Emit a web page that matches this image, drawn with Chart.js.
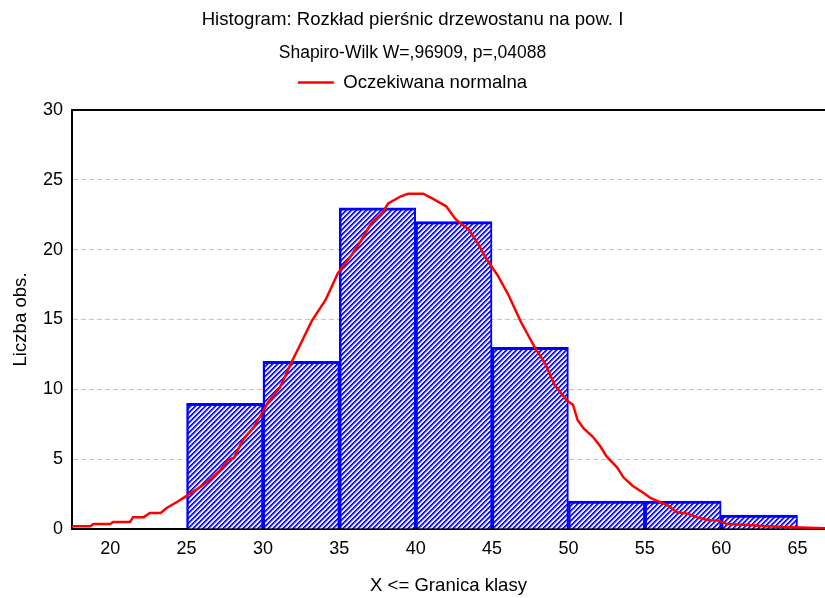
<!DOCTYPE html>
<html>
<head>
<meta charset="utf-8">
<script src="https://cdn.jsdelivr.net/npm/chart.js@4/dist/chart.umd.min.js"></script>
<style>
  html, body { margin: 0; padding: 0; background: #fff; }
  canvas { display: block; }
</style>
</head>
<body>
<canvas id="myChart" width="825" height="598"></canvas>
<script>
// histogram classes (centre of each 5-wide class) and counts
var binCenters = [27.5, 32.5, 37.5, 42.5, 47.5, 52.5, 57.5, 62.5];
var counts = [9, 12, 23, 22, 13, 2, 2, 1];

// expected normal curve
var curveX = [17.5, 18.7, 18.9, 20.0, 20.2, 21.3, 21.5, 22.2, 22.6, 23.3, 23.7, 24.4, 24.9, 25.9, 26.5, 27.2, 27.7, 28.1, 28.7, 29.4,
    30.0, 30.3, 31.1, 31.9, 32.4, 33.2, 34.1, 34.9, 35.8, 36.4, 37.1, 37.8, 38.2, 39.0, 39.5, 40.5, 41.2, 42.0, 42.6, 43.5,
    44.1, 44.6, 45.4, 46.1, 46.9, 47.8, 48.5, 49.1, 49.9, 50.3, 50.6, 51.0, 51.6, 52.1, 52.5, 53.2, 53.6, 54.2, 54.9, 55.4,
    56.5, 57.1, 57.8, 58.4, 59.1, 59.8, 60.4, 61.5, 63.0, 64.1, 66.8];
var curveY = [0.2, 0.2, 0.35, 0.35, 0.5, 0.5, 0.85, 0.85, 1.15, 1.15, 1.5, 1.95, 2.3, 3.0, 3.5, 4.2, 4.9, 5.1, 6.4, 7.3,
    8.4, 9.0, 10.1, 12.0, 13.1, 14.9, 16.4, 18.3, 19.6, 20.6, 21.9, 22.6, 23.3, 23.8, 24.0, 24.0, 23.6, 23.1, 22.2, 21.4,
    20.4, 19.4, 18.1, 16.7, 14.8, 13.0, 11.8, 10.3, 9.2, 8.9, 7.8, 7.2, 6.6, 5.9, 5.2, 4.4, 3.7, 3.1, 2.6, 2.2,
    1.7, 1.2, 1.1, 0.85, 0.65, 0.6, 0.35, 0.3, 0.2, 0.15, 0.05];

var xMin = 17.5, xMax = 66.8, xStep = 5;
var yMin = 0, yMax = 30, yStep = 5;

// diagonal hatch fill for the bars
function hatch() {
    var c = document.createElement('canvas');
    c.width = 5; c.height = 5;
    var g = c.getContext('2d');
    var cols = ['#0000ff', '#2a2aff', '#9090ff', '#ffffff', '#d4d4ff'];
    for (var i = 0; i < 5; i++) {
        for (var j = 0; j < 5; j++) {
            g.fillStyle = cols[(i + j) % 5];
            g.fillRect(i, j, 1, 1);
        }
    }
    return g.createPattern(c, 'repeat');
}

Chart.defaults.font.family = "'Liberation Sans', Arial, sans-serif";
Chart.defaults.font.size = 18;
Chart.defaults.color = '#000';

var ctx = document.getElementById('myChart').getContext('2d');
var chart = new Chart(ctx, {
    type: 'bar',
    data: {
        datasets: [{
            type: 'line',
            label: 'Oczekiwana normalna',
            data: curveX.map(function (x, i) { return {x: x, y: curveY[i]}; }),
            borderColor: '#ff0000',
            backgroundColor: '#ff0000',
            borderWidth: 2.5,
            pointRadius: 0,
            pointStyle: 'line',
            tension: 0,
            order: 0
        }, {
            type: 'bar',
            label: 'Liczba obs.',
            data: binCenters.map(function (x, i) { return {x: x, y: counts[i]}; }),
            backgroundColor: hatch(),
            borderColor: '#0000ff',
            borderWidth: {top: 3, left: 2.5, right: 2, bottom: 0},
            borderSkipped: false,
            barPercentage: 1,
            categoryPercentage: 1,
            order: 1
        }]
    },
    options: {
        responsive: false,
        animation: false,
        devicePixelRatio: 1,
        layout: {padding: 0},
        plugins: {
            title: {
                display: true,
                text: 'Histogram: Rozkład pierśnic drzewostanu na pow. I',
                font: {size: 18.6, weight: 'normal', lineHeight: 1.2},
                color: '#000',
                padding: {top: 9, bottom: 11}
            },
            subtitle: {
                display: true,
                text: 'Shapiro-Wilk W=,96909, p=,04088',
                font: {size: 17.5, lineHeight: 1.2},
                color: '#000',
                padding: {top: 0, bottom: 0}
            },
            legend: {
                display: true,
                labels: {
                    usePointStyle: true,
                    pointStyleWidth: 36,
                    padding: 10,
                    color: '#000',
                    font: {size: 18.6},
                    filter: function (item) { return item.datasetIndex === 0; }
                }
            },
            tooltip: {enabled: false}
        },
        scales: {
            x: {
                type: 'linear',
                position: 'bottom',
                min: xMin,
                max: xMax,
                offset: false,
                grid: {display: false, drawTicks: false},
                border: {display: true, color: '#000', width: 2},
                ticks: {stepSize: xStep, includeBounds: false, padding: 9, color: '#000'},
                title: {
                    display: true,
                    text: 'X <= Granica klasy',
                    font: {size: 18.6, lineHeight: 1},
                    padding: {top: 0, bottom: 3},
                    color: '#000'
                },
                afterFit: function (scale) { scale.height = 69; }
            },
            x2: {
                type: 'linear',
                position: 'top',
                min: xMin,
                max: xMax,
                grid: {display: false, drawTicks: false},
                border: {display: true, color: '#000', width: 2},
                ticks: {display: false},
                afterFit: function (scale) { scale.height = 8; }
            },
            y: {
                min: yMin,
                max: yMax,
                grid: {
                    drawTicks: false,
                    color: function (c) {
                        var v = c.tick && c.tick.value;
                        return (v === yMin || v === yMax) ? 'rgba(0,0,0,0)' : '#c4c4c4';
                    },
                    lineWidth: 1
                },
                border: {display: true, color: '#000', width: 2, dash: [5, 3]},
                ticks: {stepSize: yStep, padding: 9, color: '#000'},
                title: {
                    display: true,
                    text: 'Liczba obs.',
                    font: {size: 18.6, lineHeight: 1},
                    padding: {top: 12, bottom: 0},
                    color: '#000'
                },
                afterFit: function (scale) { scale.width = 72; }
            }
        }
    }
});
</script>
</body>
</html>
